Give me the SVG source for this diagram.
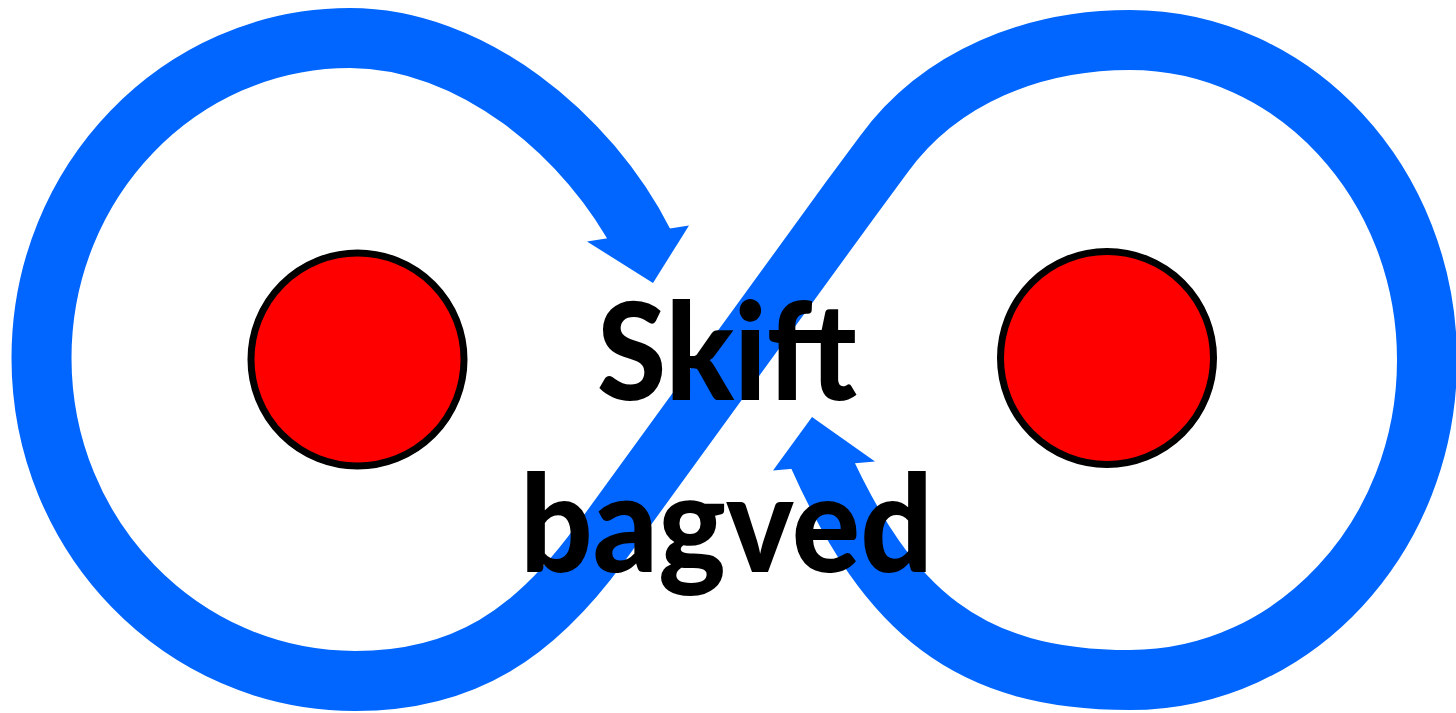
<svg xmlns="http://www.w3.org/2000/svg" width="1456" height="713" viewBox="0 0 1456 713">
  <style>
    .band { fill: none; stroke: #0066FF; stroke-width: 60; stroke-linecap: butt; stroke-linejoin: round; }
    .head { fill: #0066FF; stroke: none; }
    .dot { fill: #FF0000; stroke: #000000; stroke-width: 7; }
    .label { font-family: Lato, "Open Sans", "Liberation Sans", sans-serif; font-weight: 900; font-size: 136px; fill: #000000; }
  </style>
  <rect x="0" y="0" width="1456" height="713" fill="#FFFFFF"/>
  <g id="connectors">
    <path class="band" d="M 644.4,244.2 C 588.1,132.9 470,38 350,38 C 179.6,38 41.5,181.3 41.5,358 C 41.5,536.4 181.9,681 355,681 C 465,681 535.2,632.9 600,544 L 850,200 L 884,154 C 940.5,76.4 1034,40 1130,40 C 1294,40 1427,183.3 1427,360 C 1427,536.7 1294,680 1130,680 C 969,680 888.3,613.1 818.1,455"/>
    <polygon class="head" points="587,241.5 653,283 689,225.5"/>
    <polygon class="head" points="773,470.5 812,417 875,461.5"/>
  </g>
  <g id="node-left">
    <circle class="dot" cx="357.5" cy="359.5" r="106.5"/>
  </g>
  <g id="node-right">
    <circle class="dot" cx="1107" cy="358" r="106.5"/>
  </g>
  <g id="label">
    <text class="label" x="597" y="400" textLength="260" lengthAdjust="spacingAndGlyphs">Skift</text>
    <text class="label" x="520" y="572" textLength="413" lengthAdjust="spacingAndGlyphs">bagved</text>
  </g>
</svg>
